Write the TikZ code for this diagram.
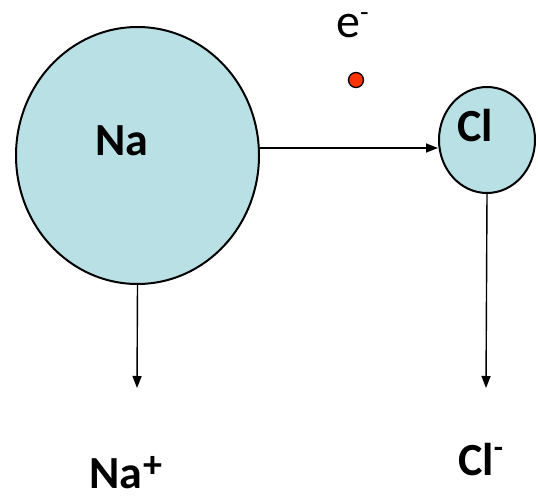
\documentclass[tikz,border=0pt]{standalone}
\usepackage{fontspec}
\setmainfont{Carlito}
\usetikzlibrary{shapes.geometric,arrows.meta}
\definecolor{atomfill}{RGB}{185,224,228}
\definecolor{electron}{RGB}{255,51,0}
% raised charge sign
\newcommand{\chargeup}[3]{\raisebox{#1}{\fontsize{#2}{#2}\selectfont #3}}
\tikzset{
  atom/.style={ellipse,draw=black,line width=2pt,fill=atomfill,inner sep=0pt},
  label/.style={inner sep=0pt,font=\fontsize{46}{46}\selectfont\bfseries},
  arr/.style={line width=1.4pt,-{Triangle[length=12pt,width=9pt]}}
}
\begin{document}
\begin{tikzpicture}[x=1pt,y=1pt]
\useasboundingbox (0,0) rectangle (538,499);
% atoms
\node[atom,minimum width=243pt,minimum height=257pt] (na) at (137.5,343.5) {};
\node[atom,minimum width=96pt,minimum height=106pt] (cl) at (487,359) {};
% electron
\node[circle,draw=black,line width=1.3pt,fill=electron,minimum size=15pt,inner sep=0pt] (el) at (356,419) {};
\node[inner sep=0pt,anchor=base west,font=\fontsize{48}{48}\selectfont] (elab) at (336,461) {e\chargeup{16pt}{28}{-}};
% atom symbols
\node[label,anchor=base west] (natxt) at (95,343) {Na};
\node[label,anchor=base west] (cltxt) at (457,357) {Cl};
% ions
\node[label,anchor=base west] (naion) at (89,11) {Na\kern1pt\chargeup{11pt}{38}{\bfseries +}};
\node[label,anchor=base west] (clion) at (458,24) {Cl\chargeup{18pt}{30}{\bfseries -}};
% transfer and ion arrows
\coordinate (h) at (0,351);
\coordinate (naend) at (137,111);
\coordinate (clend) at (486,111);
\draw[arr] (na.east |- h) -- (cl.west |- h);
\draw[arr] (na.south) -- (naend);
\draw[arr] (cl.south) -- (clend);
\end{tikzpicture}
\end{document}
